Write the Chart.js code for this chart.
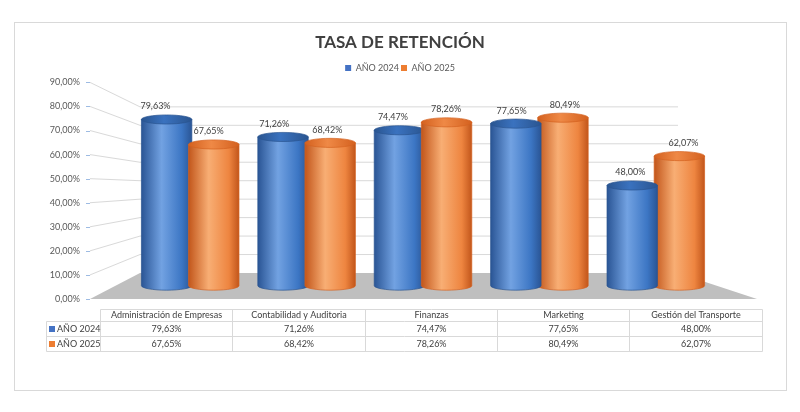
<!DOCTYPE html>
<html lang="es">
<head>
<meta charset="utf-8">
<title>Tasa de retención</title>
<script src="https://cdn.jsdelivr.net/npm/chart.js@4.4.1/dist/chart.umd.min.js"></script>
<style>
  html, body { margin: 0; padding: 0; background: #fff; }
  #wrap { width: 800px; height: 412px; position: relative; }
</style>
</head>
<body>
<div id="wrap"><canvas id="chart" width="800" height="412"></canvas></div>
<script>
// Datos
const carreras = ['Administración de Empresas', 'Contabilidad y Auditoria', 'Finanzas', 'Marketing', 'Gestión del Transporte'];
const series = ['AÑO 2024', 'AÑO 2025'];
const anio2024 = [79.63, 71.26, 74.47, 77.65, 48.00];
const anio2025 = [67.65, 68.42, 78.26, 80.49, 62.07];
const ticksEje = [0, 10, 20, 30, 40, 50, 60, 70, 80, 90];

const FONT = 'Lato, "Open Sans", sans-serif';
const TEXTO = '#404040';
const LINEA = '#d9d9d9';

// paletas para simular cilindros 3D
const PALETAS = [
  { solid: '#4472c4', dark: '#2a5595', light: '#72a2e2', mid: '#3c76c4', top: '#3a72bf', rim: '#2a5590', shift: -6 },
  { solid: '#ed7d31', dark: '#c2561b', light: '#f8ae74', mid: '#ee8540', top: '#ef8946', rim: '#d4611f', shift: -1 }
];

const fmt = v => v.toFixed(2).replace('.', ',') + '%';

function cilindro (ctx, cx, top, base, w, pal) {
  const x0 = cx - w / 2, x1 = cx + w / 2, ry = w * 0.09;
  const g = ctx.createLinearGradient(x0, 0, x1, 0);
  g.addColorStop(0, pal.dark);
  g.addColorStop(0.4, pal.light);
  g.addColorStop(0.8, pal.mid);
  g.addColorStop(1, pal.dark);
  ctx.save();
  ctx.beginPath();
  ctx.moveTo(x0, top);
  ctx.lineTo(x0, base);
  ctx.ellipse(cx, base, w / 2, ry, 0, Math.PI, 0, true);
  ctx.lineTo(x1, top);
  ctx.closePath();
  ctx.fillStyle = g;
  ctx.fill();
  ctx.strokeStyle = pal.rim;
  ctx.lineWidth = 0.7;
  ctx.stroke();
  // tapa superior
  const gt = ctx.createLinearGradient(x0, 0, x1, 0);
  gt.addColorStop(0, pal.rim);
  gt.addColorStop(0.45, pal.top);
  gt.addColorStop(1, pal.rim);
  ctx.beginPath();
  ctx.ellipse(cx, top, w / 2, ry, 0, 0, Math.PI * 2);
  ctx.fillStyle = gt;
  ctx.fill();
  ctx.stroke();
  ctx.restore();
}

const escena3d = {
  id: 'escena3d',
  beforeDraw (chart) {
    const ctx = chart.ctx;
    ctx.save();
    ctx.fillStyle = '#fff';
    ctx.fillRect(0, 0, chart.width, chart.height);
    ctx.strokeStyle = LINEA;
    ctx.lineWidth = 1;
    ctx.strokeRect(14.5, 22.5, 772, 368);
    ctx.restore();
  },
  beforeDatasetsDraw (chart) {
    const { ctx, chartArea: a, scales } = chart;
    const y = scales.y;
    // geometría de paredes (frente / fondo)
    const frontL = a.left - 42, frontR = a.right + 43;
    const backL = a.left + 8, backR = a.right - 36;
    const y0 = y.getPixelForValue(0);
    const backY = py => (y0 - 26) - (y0 - py) * 0.767;
    ctx.save();
    // suelo
    ctx.beginPath();
    ctx.moveTo(frontL, y0);
    ctx.lineTo(frontR, y0);
    ctx.lineTo(backR, backY(y0));
    ctx.lineTo(backL, backY(y0));
    ctx.closePath();
    ctx.fillStyle = '#bfbfbf';
    ctx.fill();
    // líneas de división
    ctx.lineWidth = 1;
    ticksEje.forEach(v => {
      const py = y.getPixelForValue(v);
      ctx.strokeStyle = '#9dbbe3';
      ctx.beginPath();
      ctx.moveTo(frontL - 4, Math.round(py) + 0.5);
      ctx.lineTo(frontL, Math.round(py) + 0.5);
      ctx.stroke();
      if (v === 0) return;
      ctx.strokeStyle = LINEA;
      ctx.beginPath();
      ctx.moveTo(frontL, py);
      ctx.lineTo(backL, backY(py));
      ctx.lineTo(backR, backY(py));
      ctx.stroke();
    });
    ctx.restore();
  },
  beforeDatasetDraw () {
    return false; // los cilindros se pintan en afterDatasetsDraw
  },
  afterDatasetsDraw (chart) {
    const { ctx, chartArea: a } = chart;
    const metas = chart.data.datasets.map((d, i) => chart.getDatasetMeta(i));
    const cxMid = (a.left + a.right) / 2;
    carreras.forEach((c, j) => {
      const orden = metas[0].data[j].x < cxMid ? [0, 1] : [1, 0];
      orden.forEach(i => {
        const el = metas[i].data[j];
        cilindro(ctx, el.x, el.y, el.base, el.width * 1.07, PALETAS[i]);
      });
    });
    // etiquetas de datos
    ctx.save();
    ctx.font = '9px ' + FONT;
    ctx.fillStyle = TEXTO;
    ctx.textAlign = 'center';
    ctx.textBaseline = 'middle';
    metas.forEach((m, i) => {
      m.data.forEach((el, j) => {
        const v = chart.data.datasets[i].data[j];
        ctx.fillText(fmt(v), el.x + PALETAS[i].shift + (el.x - cxMid) * 0.02, el.y - 13);
      });
    });
    ctx.restore();
  },
  afterDraw (chart) {
    // tabla de datos
    const { ctx, chartArea: a, scales } = chart;
    const n = carreras.length;
    const band = (a.right - a.left) / n;
    const vp = a.left + 233, k = 1.137;
    const frente = x => vp + (x - vp) * k;
    const cols = [];
    for (let i = 0; i <= n; i++) cols.push(Math.round(frente(a.left + i * band)) + 0.5);
    const leftCol = 46.5;
    const t0 = Math.round(scales.y.getPixelForValue(0)) + 10.5;
    const rows = [t0, t0 + 12, t0 + 27, t0 + 42];
    ctx.save();
    ctx.strokeStyle = LINEA;
    ctx.lineWidth = 1;
    ctx.beginPath();
    ctx.moveTo(cols[0], rows[0]); ctx.lineTo(cols[n], rows[0]);
    for (let r = 1; r < rows.length; r++) { ctx.moveTo(leftCol, rows[r]); ctx.lineTo(cols[n], rows[r]); }
    cols.forEach(x => { ctx.moveTo(x, rows[0]); ctx.lineTo(x, rows[3]); });
    ctx.moveTo(leftCol, rows[1]); ctx.lineTo(leftCol, rows[3]);
    ctx.stroke();

    ctx.font = '9px ' + FONT;
    ctx.fillStyle = TEXTO;
    ctx.textBaseline = 'middle';
    ctx.textAlign = 'center';
    carreras.forEach((c, i) => ctx.fillText(c, (cols[i] + cols[i + 1]) / 2, (rows[0] + rows[1]) / 2));
    [anio2024, anio2025].forEach((vals, r) => {
      const cy = (rows[r + 1] + rows[r + 2]) / 2;
      ctx.textAlign = 'center';
      ctx.fillStyle = TEXTO;
      vals.forEach((v, i) => ctx.fillText(fmt(v), (cols[i] + cols[i + 1]) / 2, cy));
      ctx.fillStyle = PALETAS[r].solid;
      ctx.fillRect(49, cy - 3, 6, 6);
      ctx.fillStyle = TEXTO;
      ctx.textAlign = 'left';
      ctx.fillText(series[r], 57, cy);
    });
    ctx.restore();
  }
};

const chart = new Chart(document.getElementById('chart'), {
  type: 'bar',
  data: {
    labels: carreras,
    datasets: [
      { label: series[0], data: anio2024, backgroundColor: PALETAS[0].solid, borderWidth: 0, yAxisID: 'yb' },
      { label: series[1], data: anio2025, backgroundColor: PALETAS[1].solid, borderWidth: 0, yAxisID: 'yb' }
    ]
  },
  options: {
    responsive: false,
    animation: false,
    devicePixelRatio: 1,
    layout: { padding: { left: 0, right: 0, top: 0, bottom: 113 } },
    datasets: { bar: { barPercentage: 1, categoryPercentage: 0.81 } },
    scales: {
      x: { display: false, offset: true },
      y: {
        position: 'left',
        min: 0,
        max: 90,
        afterBuildTicks: s => { s.ticks = ticksEje.map(v => ({ value: v })); },
        afterFit: s => { s.width = 132; },
        grid: { display: false, drawTicks: false },
        border: { display: false },
        ticks: { padding: 52, color: '#595959', font: { size: 9, family: FONT }, callback: v => fmt(v) }
      },
      // escala de los cilindros (a media profundidad)
      yb: { display: false, min: -6.4, max: 97.4 },
      // margen derecho reservado para la perspectiva del suelo
      yr: {
        position: 'right',
        grid: { display: false, drawTicks: false },
        border: { display: false },
        ticks: { display: false },
        afterFit: s => { s.width = 86; }
      }
    },
    plugins: {
      title: {
        display: true,
        text: 'TASA DE RETENCIÓN',
        color: TEXTO,
        font: { size: 17, weight: 'bold', family: FONT },
        padding: { top: 32, bottom: 9 }
      },
      legend: {
        labels: { boxWidth: 6, boxHeight: 6, padding: 2, color: '#595959', font: { size: 9, family: FONT } }
      },
      tooltip: { enabled: false }
    }
  },
  plugins: [escena3d]
});
</script>
</body>
</html>
